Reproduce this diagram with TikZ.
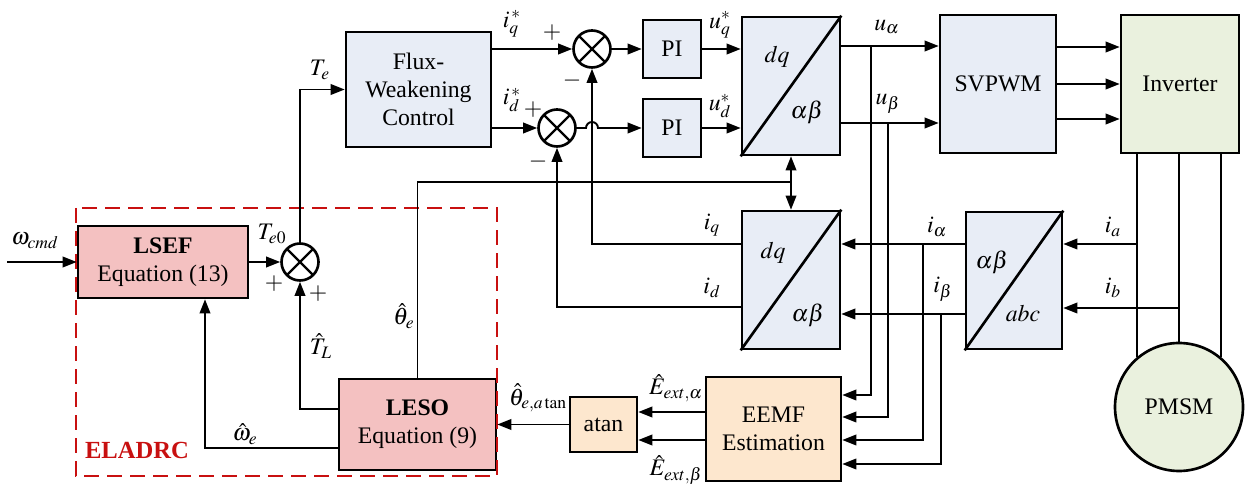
\documentclass[tikz,border=0pt]{standalone}
\usepackage{mathptmx}
\usepackage{fontspec}
\setmainfont{Liberation Serif}
\usetikzlibrary{arrows.meta,positioning,calc}
\definecolor{boxblue}{RGB}{232,237,246}
\definecolor{boxpink}{RGB}{244,193,193}
\definecolor{boxorange}{RGB}{253,231,206}
\definecolor{boxgreen}{RGB}{234,241,222}
\definecolor{darkred}{RGB}{200,16,16}
\tikzset{
  blk/.style={draw, line width=1.5pt, align=center, inner sep=1pt},
  sumnode/.style={draw, circle, line width=1.5pt, minimum size=7.4mm, inner sep=0pt,
    path picture={\draw[line width=1.4pt] (path picture bounding box.north west) -- (path picture bounding box.south east)
      (path picture bounding box.north east) -- (path picture bounding box.south west);}},
  arr/.style={-{Triangle[length=2.8mm,width=2.1mm]}, line width=1.1pt},
  dblarr/.style={{Triangle[length=2.8mm,width=2.1mm]}-{Triangle[length=2.8mm,width=2.1mm]}, line width=1.1pt},
  ln/.style={line width=1.1pt},
}

\begin{document}
\begin{tikzpicture}[x=0.2mm, y=-0.2mm, font=\fontsize{13.5}{16}\selectfont]
\useasboundingbox (0,0) rectangle (1248,493);

% blocks
\node[blk, fill=boxpink, minimum width=34mm, minimum height=14.4mm] (lsef) at (163,262) {\textbf{LSEF}\\Equation (13)};
\node[blk, fill=boxpink, minimum width=31.4mm, minimum height=18.2mm] (leso) at (417.5,424.5) {\textbf{LESO}\\Equation (9)};
\node[blk, fill=boxblue, minimum width=29mm, minimum height=23mm] (fw) at (418.5,89.5) {Flux-\\Weakening\\Control};
\node[blk, fill=boxblue, minimum size=11.6mm] (pi1) at (672,49) {PI};
\node[blk, fill=boxblue, minimum size=11.6mm] (pi2) at (672,128) {PI};
\node[blk, fill=boxblue, minimum width=19.6mm, minimum height=27.6mm] (dq1) at (791,86) {};
\node[blk, fill=boxblue, minimum width=19.6mm, minimum height=27.6mm] (dq2) at (791,280) {};
\node[blk, fill=boxblue, minimum width=19.2mm, minimum height=27.4mm] (clk) at (1014,280.5) {};
\node[blk, fill=boxblue, minimum width=23.2mm, minimum height=27.6mm] (svpwm) at (998,84) {SVPWM};
\node[blk, fill=boxgreen, minimum width=23.6mm, minimum height=27.6mm] (inv) at (1180,84) {Inverter};
\node[blk, fill=boxorange, minimum width=27mm, minimum height=20.8mm] (eemf) at (773.5,429) {EEMF\\Estimation};
\node[blk, fill=boxorange, minimum width=13.4mm, minimum height=11mm] (atan) at (603.5,424.5) {atan};
\node[blk, circle, fill=boxgreen, minimum size=25.6mm] (pmsm) at (1179,407) {PMSM};
\node[sumnode] (sum1) at (592,49) {};
\node[sumnode] (sum2) at (557,128) {};
\node[sumnode] (sum3) at (300,262) {};

% transform blocks
\foreach \b in {dq1,dq2,clk} \draw[line width=1.5pt] (\b.south west) -- (\b.north east);
\node (dq1t) at (777,57) {$dq$};
\node (dq1b) at (807,112) {$\alpha\beta$};
\node (dq2t) at (773,253) {$dq$};
\node (dq2b) at (808,315) {$\alpha\beta$};
\node (clkt) at (992,262) {$\alpha\beta$};
\node (clkb) at (1023,313) {$abc$};

% ELADRC frame
\draw[darkred, line width=1.3pt, dash pattern=on 3mm off 1.6mm] (76,208) rectangle (497,476);
\node[text=darkred, font=\fontsize{14}{16}\selectfont\bfseries] (eladrc) at (137,450) {ELADRC};

% speed loop
\coordinate (win) at (7,262);
\draw[arr] (win) -- (lsef);
\draw[arr] (lsef) -- (sum3);
\draw[arr] (sum3.north) |- (fw.west);
\draw[arr] (leso.west |- 0,409) -| (sum3.south);
\draw[arr] (leso.west |- 0,448) -| (lsef.south -| 205,0);
\draw[arr] (atan) -- (leso);
\draw[arr] (eemf.west |- 0,412) -- (atan.east |- 0,412);
\draw[arr] (eemf.west |- 0,440) -- (atan.east |- 0,440);

% current loop
\draw[arr] (fw.east |- sum1) -- (sum1.west);
\draw[arr] (fw.east |- sum2) -- (sum2.west);
\draw[arr] (sum1) -- (pi1);
\draw[arr] (sum2.east) -- (586,128) arc[start angle=180, end angle=0, radius=1.2mm] -- (pi2.west);
\draw[arr] (pi1) -- (dq1.west |- pi1);
\draw[arr] (pi2) -- (dq1.west |- pi2);
\draw[arr] (dq2.west |- 0,244) -| (sum1.south);
\draw[arr] (dq2.west |- 0,307) -| (sum2.south);

% angle
\coordinate (thj) at (dq1.south |- 0,182);
\draw[ln] (leso.north) |- (thj);
\draw[dblarr] (dq1.south) -- (dq2.north);

% voltages
\draw[arr] (dq1.east |- 0,46) -- (svpwm.west |- 0,46);
\draw[arr] (dq1.east |- 0,123) -- (svpwm.west |- 0,123);
\foreach \yy in {47,84,119} \draw[arr] (svpwm.east |- 0,\yy) -- (inv.west |- 0,\yy);
\coordinate (ua) at (871,46);
\coordinate (ub) at (888,123);
\draw[arr] (ua) |- (eemf.east |- 0,395);
\draw[arr] (ub) |- (eemf.east |- 0,417);

% machine and currents
\draw[ln] (pmsm.130 |- inv.south) -- (pmsm.130);
\draw[ln] (pmsm.north |- inv.south) -- (pmsm.north);
\draw[ln] (pmsm.50 |- inv.south) -- (pmsm.50);
\coordinate (ia) at (pmsm.130 |- 0,244);
\coordinate (ib) at (pmsm.north |- 0,308);
\draw[arr] (ia) -- (clk.east |- ia);
\draw[arr] (ib) -- (clk.east |- ib);
\draw[arr] (clk.west |- 0,244) -- (dq2.east |- 0,244);
\draw[arr] (clk.west |- 0,314) -- (dq2.east |- 0,314);
\coordinate (ial) at (923,244);
\coordinate (ibe) at (941,314);
\draw[arr] (ial) |- (eemf.east |- 0,440);
\draw[arr] (ibe) |- (eemf.east |- 0,464);

% labels
\node (lwcmd) at (35,241) {$\omega_{cmd}$};
\node (lte0) at (272,234) {$T_{e0}$};
\node (lp1) at (274,284) {$+$};
\node (lp2) at (318,294) {$+$};
\node (ltl) at (321,346) {$\hat{T}_L$};
\node (lwe) at (245,434) {$\hat{\omega}_e$};
\node (lthe) at (404,316) {$\hat{\theta}_e$};
\node (lte) at (320,70) {$T_e$};
\node (liq) at (512,24) {$i_q^{\,*}$};
\node (lid) at (512,100) {$i_d^{\,*}$};
\node (lp3) at (552,33) {$+$};
\node (lm3) at (572,81) {$-$};
\node (lp4) at (533,110) {$+$};
\node (lm4) at (538,162) {$-$};
\node (luq) at (720,25) {$u_q^{*}$};
\node (lud) at (720,106) {$u_d^{*}$};
\node (lua) at (887,27) {$u_\alpha$};
\node (lub) at (888,104) {$u_\beta$};
\node (lia) at (1113,227) {$i_a$};
\node (lib) at (1113,288) {$i_b$};
\node (lial) at (937,227) {$i_\alpha$};
\node (libe) at (943,289) {$i_\beta$};
\node (liq2) at (712,225) {$i_q$};
\node (lid2) at (712,288) {$i_d$};
\node (lthat) at (538,398) {$\hat{\theta}_{e,a\tan}$};
\node (lea) at (676,388) {$\hat{E}_{ext,\alpha}$};
\node (leb) at (676,470) {$\hat{E}_{ext,\beta}$};
\end{tikzpicture}
\end{document}
